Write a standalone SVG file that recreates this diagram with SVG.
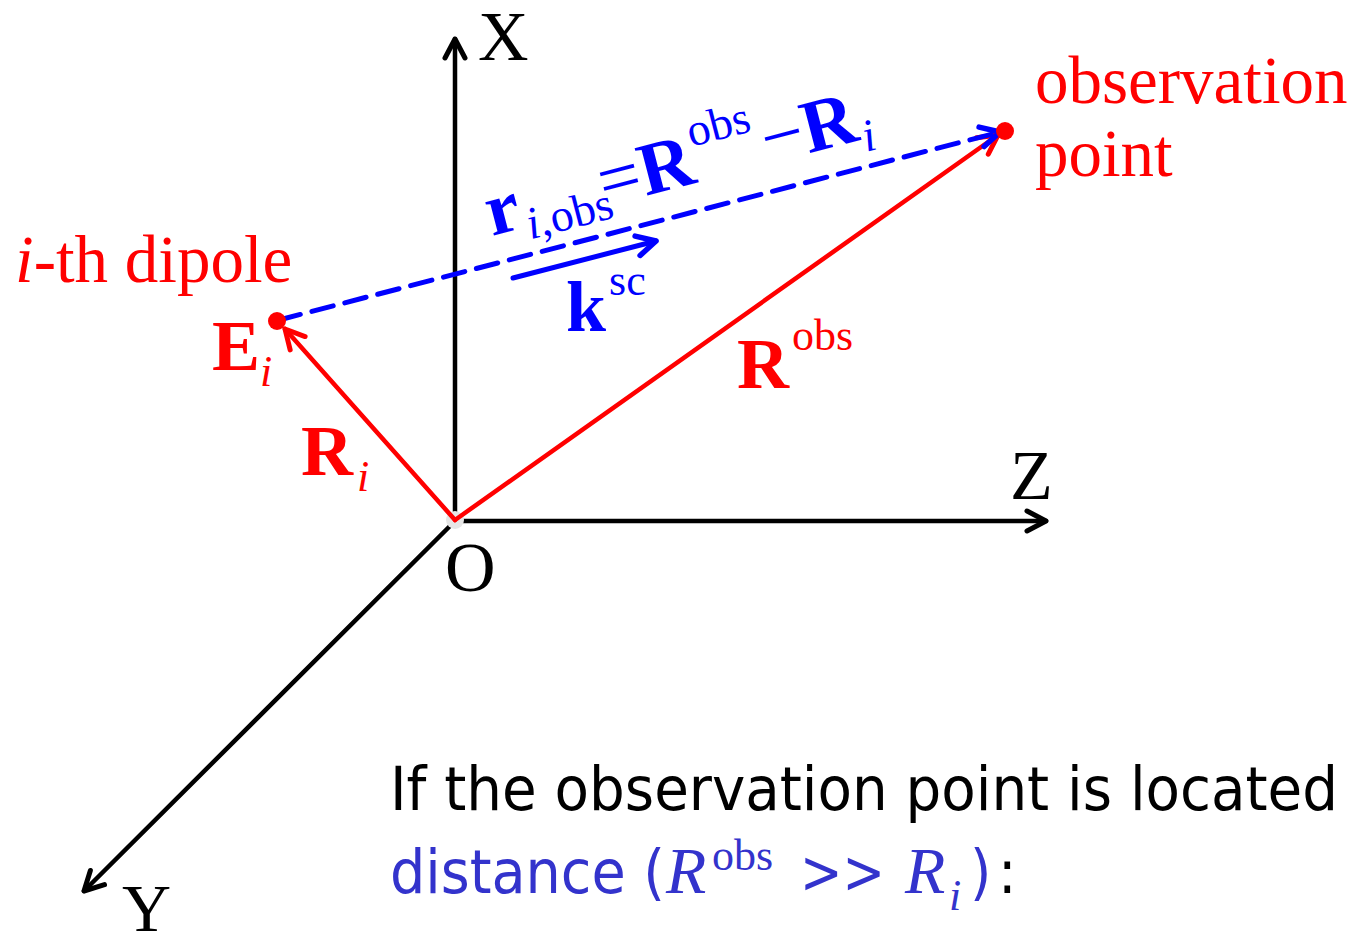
<svg xmlns="http://www.w3.org/2000/svg" width="1353" height="937" viewBox="0 0 1353 937">
<style>
.ser{font-family:"Liberation Serif","Times New Roman",serif}
.sans{font-family:"DejaVu Sans Condensed","DejaVu Sans",sans-serif}
.red{fill:#ff0000}
.blue{fill:#0000ff}
.blk{fill:#000000}
.b{font-weight:bold}
.it{font-style:italic}
.ax{stroke:#000;stroke-width:4.5;fill:none;stroke-linecap:round}
.rl{stroke:#ff0000;stroke-width:4.5;fill:none;stroke-linecap:round}
.bl{stroke:#0000ff;stroke-width:5;fill:none;stroke-linecap:round}
</style>
<defs>
<marker id="chevK" markerUnits="userSpaceOnUse" orient="auto" refX="0" refY="0" markerWidth="30" markerHeight="30" overflow="visible">
<path d="M-19,-10 L0,0 L-19,10" fill="none" stroke="#000" stroke-width="5" stroke-linecap="round" stroke-linejoin="round"/>
</marker>
<marker id="chevR" markerUnits="userSpaceOnUse" orient="auto" refX="0" refY="0" markerWidth="30" markerHeight="30" overflow="visible">
<path d="M-19,-10 L0,0 L-19,10" fill="none" stroke="#ff0000" stroke-width="5" stroke-linecap="round" stroke-linejoin="round"/>
</marker>
<marker id="chevB" markerUnits="userSpaceOnUse" orient="auto" refX="0" refY="0" markerWidth="30" markerHeight="30" overflow="visible">
<path d="M-19,-10 L0,0 L-19,10" fill="none" stroke="#0000ff" stroke-width="5.5" stroke-linecap="round" stroke-linejoin="round"/>
</marker>
</defs>
<rect width="1353" height="937" fill="#ffffff"/>

<g id="connectors">
<line class="ax" x1="455" y1="521" x2="455" y2="39" marker-end="url(#chevK)"/>
<line class="ax" x1="455" y1="521" x2="1046" y2="521" marker-end="url(#chevK)"/>
<line class="ax" x1="455" y1="521" x2="84" y2="891" marker-end="url(#chevK)"/>
<circle cx="455" cy="520" r="9" fill="#e6e6e6"/>
<line class="rl" x1="455" y1="520" x2="285" y2="329" marker-end="url(#chevR)"/>
<line class="rl" x1="455" y1="520" x2="998" y2="135" marker-end="url(#chevR)"/>
<line class="bl" x1="279" y1="320" x2="1000" y2="132" stroke-dasharray="22 12" marker-end="url(#chevB)"/>
<line class="bl" x1="513" y1="278" x2="656" y2="241" marker-end="url(#chevB)"/>
</g>

<g id="axis-labels">
<text class="ser blk" x="478" y="60" font-size="70">X</text>
<text class="ser blk" x="1010" y="499" font-size="70">Z</text>
<text class="ser blk" x="445" y="591" font-size="70">O</text>
<text class="ser blk" x="122" y="931" font-size="68">Y</text>
</g>

<g id="dipole">
<circle cx="277" cy="321" r="9" fill="#ff0000"/>
<text class="ser red" x="15" y="282" font-size="67"><tspan class="it" font-style="italic">i</tspan>-th dipole</text>
<text class="ser red" x="212" y="370" font-size="72"><tspan class="b">E</tspan><tspan class="it" font-style="italic" font-size="44" dy="16">i</tspan></text>
</g>

<g id="observation-point">
<circle cx="1005" cy="131" r="9" fill="#ff0000"/>
<text class="ser red" x="1035" y="103" font-size="67">observation</text>
<text class="ser red" x="1035" y="176" font-size="67">point</text>
</g>

<g id="vector-Ri">
<text class="ser red" x="301" y="475" font-size="72"><tspan class="b">R</tspan><tspan class="it" font-style="italic" font-size="44" dx="4" dy="16">i</tspan></text>
</g>

<g id="vector-Robs">
<text class="ser red" x="737" y="388" font-size="72"><tspan class="b">R</tspan><tspan font-size="44" dx="3" dy="-38">obs</tspan></text>
</g>

<g id="vector-r">
<text class="ser blue" transform="translate(492,236) rotate(-14.6)" x="0" y="0" font-size="75"><tspan font-weight="bold">r</tspan><tspan font-style="italic" font-size="46" dx="3" dy="13">i</tspan><tspan font-size="46">,obs</tspan><tspan dy="-13" dx="-8">=</tspan><tspan font-weight="bold">R</tspan><tspan font-size="46" dx="2" dy="-36">obs</tspan><tspan dy="36" dx="6">−</tspan><tspan font-weight="bold">R</tspan><tspan font-style="italic" font-size="46" dx="2" dy="13">i</tspan></text>
</g>

<g id="vector-ksc">
<text class="ser blue" x="566" y="331" font-size="72"><tspan class="b">k</tspan><tspan font-size="44" dx="3" dy="-36">sc</tspan></text>
</g>

<g id="caption">
<text class="sans blk" x="390" y="810" font-size="61" textLength="948" lengthAdjust="spacingAndGlyphs">If the observation point is located</text>
<text class="sans" x="390" y="893" font-size="61" fill="#3333cc" textLength="275" lengthAdjust="spacingAndGlyphs">distance (</text>
<text class="ser it" x="666" y="893" font-size="66" fill="#3333cc">R</text>
<text class="ser" x="712" y="870" font-size="44" fill="#3333cc">obs</text>
<text class="sans" x="800" y="893" font-size="61" fill="#3333cc" textLength="85" lengthAdjust="spacingAndGlyphs">&gt;&gt;</text>
<text class="ser it" x="905" y="893" font-size="66" fill="#3333cc">R</text>
<text class="ser it" x="949" y="910" font-size="44" fill="#3333cc">i</text>
<text class="sans" x="970" y="893" font-size="61" fill="#3333cc">)</text>
<text class="sans blk" x="998" y="893" font-size="61">:</text>
</g>
</svg>
